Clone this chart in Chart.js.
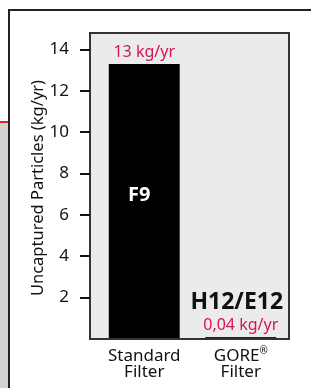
<!DOCTYPE html>
<html>
<head>
<meta charset="utf-8">
<script src="https://cdn.jsdelivr.net/npm/chart.js@4.4.1/dist/chart.umd.min.js"></script>
<style>
html,body{margin:0;padding:0;background:#fff;}
canvas{display:block;}
</style>
</head>
<body>
<canvas id="c" width="311" height="388"></canvas>
<script>
// ---- data ----
const categoryMain = ["Standard", "GORE"];
const categorySup = ["", "®"];
const categorySub = ["Filter", "Filter"];
const values = [13.3, 0.04];
const valueLabels = ["13 kg/yr", "0,04 kg/yr"];
const gradeLabels = ["F9", "H12/E12"];
const yTickValues = [2, 4, 6, 8, 10, 12, 14];
const yTitle = "Uncaptured Particles (kg/yr)";

const FONT = "'Noto Sans', 'Open Sans', sans-serif";
const RED = "#d4164e";
const BOX_EXTRA_LEFT = 6;

const decor = {
  id: 'decor',
  beforeDraw(chart) {
    const ctx = chart.ctx;
    const a = chart.chartArea;
    ctx.save();
    // left strip
    ctx.fillStyle = '#d3d3d3';
    ctx.fillRect(0, 123, 8, 265);
    ctx.fillStyle = '#e3241f';
    ctx.fillRect(0, 121, 8, 2);
    // outer frame
    ctx.fillStyle = '#222';
    ctx.fillRect(8, 9, 2, 379);
    ctx.fillRect(8, 9, 303, 2);
    // plot background
    ctx.fillStyle = '#ebebeb';
    ctx.fillRect(a.left - BOX_EXTRA_LEFT, a.top, a.right - a.left + BOX_EXTRA_LEFT, a.bottom - a.top);
    ctx.restore();
  },
  afterDatasetsDraw(chart) {
    const ctx = chart.ctx;
    const a = chart.chartArea;
    const left = a.left - BOX_EXTRA_LEFT;
    ctx.save();
    ctx.strokeStyle = '#333';
    ctx.lineWidth = 2;
    ctx.strokeRect(left, a.top, a.right - left, a.bottom - a.top);
    // y tick marks
    const ys = chart.scales.y;
    ctx.strokeStyle = '#111';
    ctx.lineWidth = 2;
    yTickValues.forEach(v => {
      const y = Math.round(ys.getPixelForValue(v));
      ctx.beginPath();
      ctx.moveTo(left - 10, y);
      ctx.lineTo(left, y);
      ctx.stroke();
    });
    // y title
    ctx.save();
    ctx.translate(38, 188);
    ctx.rotate(-Math.PI / 2);
    ctx.fillStyle = '#111';
    ctx.font = "16.5px " + FONT;
    ctx.textAlign = 'center';
    ctx.textBaseline = 'middle';
    ctx.fillText(yTitle, 0, 0);
    ctx.restore();

    const meta = chart.getDatasetMeta(0);
    ctx.textAlign = 'center';
    ctx.textBaseline = 'alphabetic';
    meta.data.forEach((bar, i) => {
      const top = bar.y;
      const bottom = bar.base;
      ctx.fillStyle = RED;
      ctx.font = "16px " + FONT;
      ctx.fillText(valueLabels[i], bar.x, top - 7);
      if (i === 0) {
        ctx.fillStyle = '#fff';
        ctx.font = "bold 20px " + FONT;
        ctx.fillText(gradeLabels[i], bar.x - 5, (top + bottom) / 2 - 1);
      } else {
        ctx.fillStyle = '#111';
        ctx.font = "bold 23px " + FONT;
        ctx.fillText(gradeLabels[i], bar.x - 4, top - 28);
      }
    });
    // x labels
    const xs = chart.scales.x;
    ctx.fillStyle = '#111';
    categoryMain.forEach((m, i) => {
      const x = xs.getPixelForValue(i);
      ctx.font = "17px " + FONT;
      const w = ctx.measureText(m).width;
      ctx.font = "10px " + FONT;
      const ws = categorySup[i] ? ctx.measureText(categorySup[i]).width : 0;
      const total = w + ws;
      ctx.textAlign = 'left';
      ctx.font = "17px " + FONT;
      ctx.fillText(m, x - total / 2, 361);
      if (categorySup[i]) {
        ctx.font = "10px " + FONT;
        ctx.fillText(categorySup[i], x - total / 2 + w, 354);
      }
      ctx.textAlign = 'center';
      ctx.font = "17px " + FONT;
      ctx.fillText(categorySub[i], x, 377);
    });
    ctx.restore();
  }
};

new Chart(document.getElementById('c'), {
  type: 'bar',
  data: {
    labels: categoryMain,
    datasets: [{
      data: values,
      backgroundColor: ['#000', '#222'],
      borderWidth: 0,
      minBarLength: 2,
      barPercentage: 0.735,
      categoryPercentage: 1.0
    }]
  },
  options: {
    responsive: false,
    animation: false,
    events: [],
    layout: { padding: { left: 0, top: 33, right: 22, bottom: 0 } },
    plugins: { legend: { display: false }, tooltip: { enabled: false } },
    scales: {
      x: {
        grid: { display: false },
        border: { display: false },
        ticks: { display: false },
        afterFit(scale) { scale.height = 49; }
      },
      y: {
        min: 0,
        max: 14.8,
        afterBuildTicks(scale) { scale.ticks = yTickValues.map(v => ({ value: v })); },
        afterFit(scale) { scale.width = 96; },
        grid: { display: false },
        border: { display: false },
        ticks: { color: '#111', font: { size: 17, family: FONT }, padding: 19 },
        title: { display: false }
      }
    }
  },
  plugins: [decor]
});
</script>
</body>
</html>
